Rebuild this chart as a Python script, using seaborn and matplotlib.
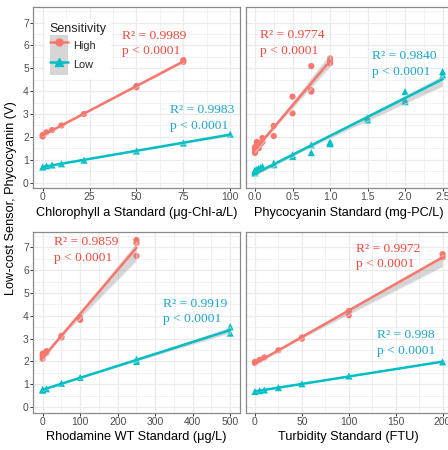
import matplotlib
matplotlib.use("Agg")
import matplotlib.pyplot as plt
import seaborn as sns
import numpy as np
from matplotlib.patches import Patch
from matplotlib.lines import Line2D
from matplotlib.ticker import MultipleLocator

# ---------------- data ----------------
chl_x_high = [0, 0, 2, 5, 10, 22, 50, 50, 75, 75]
chl_y_high = [2.02, 2.08, 2.2, 2.3, 2.5, 3.0, 4.17, 4.23, 5.28, 5.36]
chl_x_low = [0, 2, 5, 10, 22, 50, 75, 100]
chl_y_low = [0.68, 0.73, 0.77, 0.82, 0.98, 1.38, 1.73, 2.12]

pc_x_high = [0, 0, 0, 0.025, 0.025, 0.05, 0.05, 0.075, 0.1, 0.1,
             0.25, 0.25, 0.5, 0.5, 0.75, 0.75, 0.75, 1.0, 1.0, 1.0]
pc_y_high = [1.3, 1.42, 1.55, 1.6, 1.78, 1.5, 1.68, 1.7, 1.78, 1.95,
             2.04, 2.48, 3.03, 3.76, 3.98, 4.05, 5.1, 5.22, 5.3, 5.44]
pc_x_low = [0, 0, 0, 0.025, 0.05, 0.075, 0.1, 0.25, 0.25, 0.5, 0.5,
            0.75, 0.75, 1.0, 1.0, 1.0, 1.5, 1.5, 2.0, 2.0, 2.0, 2.5, 2.5]
pc_y_low = [0.42, 0.48, 0.55, 0.58, 0.62, 0.66, 0.7, 0.78, 0.85, 1.14, 1.22,
            1.31, 1.65, 1.7, 1.74, 1.78, 2.74, 2.84, 3.54, 3.62, 3.98, 4.71, 4.86]

rh_x_high = [0, 0, 0, 10, 10, 50, 50, 100, 100, 250, 250, 250]
rh_y_high = [2.12, 2.25, 2.34, 2.37, 2.45, 3.05, 3.12, 3.82, 3.93, 6.62, 7.18, 7.32]
rh_x_low = [0, 0, 10, 50, 100, 250, 250, 500, 500]
rh_y_low = [0.74, 0.78, 0.8, 1.04, 1.3, 2.0, 2.1, 3.24, 3.52]

tu_x_high = [0, 0, 5, 10, 25, 50, 50, 100, 100, 200, 200]
tu_y_high = [1.93, 1.98, 2.07, 2.17, 2.49, 3.0, 3.05, 4.02, 4.21, 6.56, 6.7]
tu_x_low = [0, 5, 10, 25, 50, 100, 200]
tu_y_low = [0.68, 0.72, 0.75, 0.85, 1.02, 1.36, 1.98]

x_titles = ["Chlorophyll a Standard (μg-Chl-a/L)", "Phycocyanin Standard (mg-PC/L)",
            "Rhodamine WT Standard (μg/L)", "Turbidity Standard (FTU)"]
r2_high = ["0.9989", "0.9774", "0.9859", "0.9972"]
r2_low = ["0.9983", "0.9840", "0.9919", "0.998"]
p_text = "p < 0.0001"
y_title = "Low-cost Sensor, Phycocyanin (V)"
legend_title = "Sensitivity"
group_labels = ["High", "Low"]

# ---------------- style ----------------
sns.set_theme(style="white")
plt.rcParams["font.family"] = ["Liberation Sans", "DejaVu Sans"]

C_HIGH = "#F8766D"
C_LOW = "#00BFC4"
T_HIGH = "#F0493E"
T_LOW = "#1DA5CB"
GRID = "#EBEBEB"

W, H = 448, 450
fig = plt.figure(figsize=(W / 100, H / 100), dpi=100)


def rect(x0, y0, x1, y1):
    return [x0 / W, 1 - y1 / H, (x1 - x0) / W, (y1 - y0) / H]


panels = [
    dict(r=rect(33.3, 7.3, 239.6, 188.3), xl=(-5, 105), maj=25, mn=12.5,
         data=(chl_x_high, chl_y_high, chl_x_low, chl_y_low), fmt="{:g}", left=True),
    dict(r=rect(245.6, 7.3, 452, 188.3), xl=(-0.125, 2.625), maj=0.5, mn=0.25,
         data=(pc_x_high, pc_y_high, pc_x_low, pc_y_low), fmt="{:.1f}", left=False),
    dict(r=rect(33.3, 232, 239.6, 412.8), xl=(-25, 525), maj=100, mn=50,
         data=(rh_x_high, rh_y_high, rh_x_low, rh_y_low), fmt="{:g}", left=True),
    dict(r=rect(245.6, 232, 452, 412.8), xl=(-10, 210), maj=50, mn=25,
         data=(tu_x_high, tu_y_high, tu_x_low, tu_y_low), fmt="{:g}", left=False),
]

# annotation anchor pixels (left x, baseline y of R² line)
ann_high = [(121.7, 38.7), (260, 38.3), (54.3, 245), (355.7, 251.7)]
ann_low = [(170, 113.3), (371.7, 59.3), (162.7, 306.7), (376.7, 338.3)]
LINE_GAP = 15.5

axes = []
for i, p in enumerate(panels):
    ax = fig.add_axes(p["r"])
    axes.append(ax)
    xh, yh, xlw, ylw = p["data"]
    ax.set_xlim(*p["xl"])
    ax.set_ylim(-0.25, 7.67)
    ax.xaxis.set_major_locator(MultipleLocator(p["maj"]))
    ax.xaxis.set_minor_locator(MultipleLocator(p["mn"]))
    ax.yaxis.set_major_locator(MultipleLocator(1))
    ax.yaxis.set_minor_locator(MultipleLocator(0.5))
    ax.grid(True, which="major", color=GRID, lw=0.9)
    ax.grid(True, which="minor", color=GRID, lw=0.5)
    ax.set_axisbelow(True)

    sns.scatterplot(x=xh, y=yh, ax=ax, color=C_HIGH, marker="o", s=20,
                    edgecolor="none", linewidth=0, zorder=3)
    sns.scatterplot(x=xlw, y=ylw, ax=ax, color=C_LOW, marker="^", s=26,
                    edgecolor="none", linewidth=0, zorder=3)
    for xs, ys, c in ((xh, yh, C_HIGH), (xlw, ylw, C_LOW)):
        n0 = len(ax.collections)
        sns.regplot(x=np.array(xs, float), y=np.array(ys, float), ax=ax,
                    scatter=False, ci=95, seed=0, color=c, truncate=True,
                    line_kws=dict(lw=1.8, zorder=4))
        for coll in ax.collections[n0:]:
            coll.set_facecolor("#999999")
            coll.set_alpha(0.4)
            coll.set_zorder(3.5)

    for s in ax.spines.values():
        s.set_visible(True)
        s.set_color("#8A8A8A")
        s.set_linewidth(0.9)
    ax.tick_params(axis="x", which="major", bottom=True, length=2, width=0.7,
                   color="#333333", labelsize=7.5, labelcolor="#4D4D4D", pad=0.8)
    ax.tick_params(axis="x", which="minor", bottom=False)
    ax.tick_params(axis="y", which="minor", left=False)
    if p["left"]:
        ax.tick_params(axis="y", which="major", left=True, length=2, width=0.7,
                       color="#333333", labelsize=7.5, labelcolor="#4D4D4D", pad=1.2)
    else:
        ax.tick_params(axis="y", which="major", left=False, labelleft=False)
    ticks = [t for t in ax.get_xticks() if p["xl"][0] <= t <= p["xl"][1]]
    ax.set_xticks(ticks)
    ax.set_xticklabels([p["fmt"].format(t) for t in ticks])
    ax.set_xlabel("")
    ax.set_ylabel("")

    # annotations
    for (px, py), r2, col in ((ann_high[i], r2_high[i], T_HIGH),
                              (ann_low[i], r2_low[i], T_LOW)):
        fig.text(px / W, 1 - py / H, "R² = " + r2, color=col, fontsize=9.7,
                 family=["Liberation Serif", "DejaVu Serif"], ha="left", va="baseline")
        fig.text(px / W, 1 - (py + LINE_GAP) / H, p_text, color=col, fontsize=9.7,
                 family=["Liberation Serif", "DejaVu Serif"], ha="left", va="baseline")

# x titles
title_pos = [(136.5, 213), (348.8, 213), (136.5, 436.7), (348.8, 436.7)]
for (tx, ty), t in zip(title_pos, x_titles):
    fig.text(tx / W, 1 - ty / H, t, ha="center", va="center", fontsize=9.2, color="black")

fig.text(11 / W, 1 - 198 / H, y_title, rotation=90, ha="center", va="center",
         fontsize=9.2, color="black")

# legend
handles = [
    (Patch(facecolor="#D6D6D6", edgecolor="none"),
     Line2D([], [], color=C_HIGH, lw=1.8, marker="o", ms=5)),
    (Patch(facecolor="#D6D6D6", edgecolor="none"),
     Line2D([], [], color=C_LOW, lw=1.8, marker="^", ms=5.5)),
]
leg = axes[0].legend(handles, group_labels, title=legend_title, loc="upper left",
                     bbox_to_anchor=(0.058, 0.935), frameon=True, framealpha=1,
                     facecolor="white", edgecolor="white", fontsize=7.8,
                     title_fontsize=9, handlelength=1.7, handleheight=2.4,
                     labelspacing=0, handletextpad=0.45, borderpad=0.4,
                     borderaxespad=0)
leg._legend_box.align = "left"
leg.get_frame().set_linewidth(0)

fig.savefig("out.png", dpi=100)
